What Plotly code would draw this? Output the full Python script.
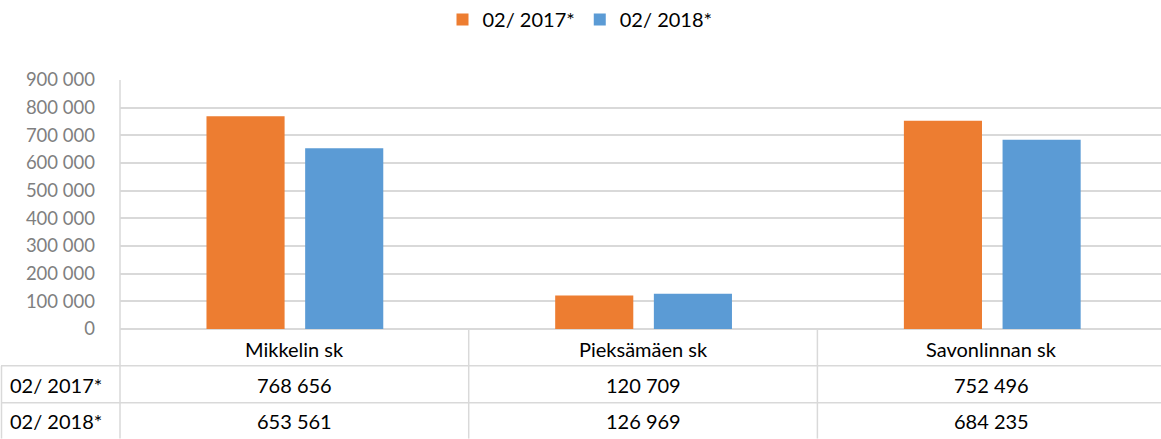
import plotly.graph_objects as go

categories = ["Mikkelin sk", "Pieksämäen sk", "Savonlinnan sk"]
series_names = ["02/ 2017*", "02/ 2018*"]
values_2017 = [768656, 120709, 752496]
values_2018 = [653561, 126969, 684235]
y_ticks = [0, 100000, 200000, 300000, 400000, 500000, 600000, 700000, 800000, 900000]

colors = ["#ED7D31", "#5B9BD5"]
FONT = "Lato"
GRID = "#d9d9d9"

def fmt(v):
    return f"{v:,}".replace(",", " ")

fig = go.Figure()
xs = list(range(len(categories)))
for name, vals, col, off in zip(series_names, [values_2017, values_2018], colors, [-0.252, 0.031]):
    fig.add_trace(go.Bar(x=xs, y=vals, name=name, marker=dict(color=col, line=dict(width=0)),
                         width=0.224, offset=off))

W, H = 1161, 439
ml, mr, mt, mb = 120, 0, 79, 110
pw = W - ml - mr
ph = H - mt - mb

def py(pix):  # pixel y -> paper y
    return (H - mb - pix) / ph

def px(pix):  # pixel x -> paper x
    return (pix - ml) / pw

shapes = []
for yy in [366, 403]:
    shapes.append(dict(type="line", xref="paper", yref="paper", x0=px(1), x1=1, y0=py(yy), y1=py(yy),
                       line=dict(color=GRID, width=1.5)))
shapes.append(dict(type="line", xref="paper", yref="paper", x0=px(1.5), x1=px(1.5), y0=py(366), y1=py(439),
                   line=dict(color=GRID, width=1.5)))
shapes.append(dict(type="line", xref="paper", yref="paper", x0=0, x1=0, y0=1, y1=py(439),
                   line=dict(color=GRID, width=1.5)))
for b in [0.5, 1.5]:
    shapes.append(dict(type="line", xref="x", yref="paper", x0=b, x1=b, y0=0, y1=py(439),
                       line=dict(color=GRID, width=1.5)))

annotations = []
for i, c in enumerate(categories):
    annotations.append(dict(x=i, xref="x", y=py(349), yref="paper", text=c, showarrow=False,
                            font=dict(family=FONT, size=20, color="#000000"), xanchor="center", yanchor="middle"))
for r, (name, vals) in enumerate(zip(series_names, [values_2017, values_2018])):
    yrow = py([385, 421][r])
    annotations.append(dict(x=px(8), xref="paper", y=yrow, yref="paper", text=name, showarrow=False,
                            font=dict(family=FONT, size=20, color="#000000"), xanchor="left", yanchor="middle"))
    for i, v in enumerate(vals):
        annotations.append(dict(x=i, xref="x", y=yrow, yref="paper", text=fmt(v), showarrow=False,
                                font=dict(family=FONT, size=20, color="#000000"), xanchor="center", yanchor="middle"))

fig.update_layout(
    width=W, height=H,
    margin=dict(l=ml, r=mr, t=mt, b=mb, pad=0),
    plot_bgcolor="white", paper_bgcolor="white",
    barmode="group",
    showlegend=True,
    legend=dict(orientation="h", x=px(580), xanchor="center", y=py(18), yanchor="middle",
                font=dict(family=FONT, size=20, color="#000000"), itemwidth=30),
    xaxis=dict(range=[-0.5, -0.5 + pw / 348.7], showticklabels=False, showgrid=False, zeroline=False,
               showline=False, fixedrange=True),
    yaxis=dict(range=[0, 900000], tickvals=y_ticks, ticktext=[fmt(v) for v in y_ticks],
               showgrid=True, gridcolor=GRID, gridwidth=1.5, zeroline=True, zerolinecolor=GRID,
               zerolinewidth=1.5, showline=False,
               tickfont=dict(family=FONT, size=18.5, color="#7f7f7f"), ticklabelstandoff=24),
    shapes=shapes,
    annotations=annotations,
)

fig.write_html("out.html", config={"displayModeBar": False},
               post_script="document.body.style.margin='0';document.body.style.overflow='hidden';")
